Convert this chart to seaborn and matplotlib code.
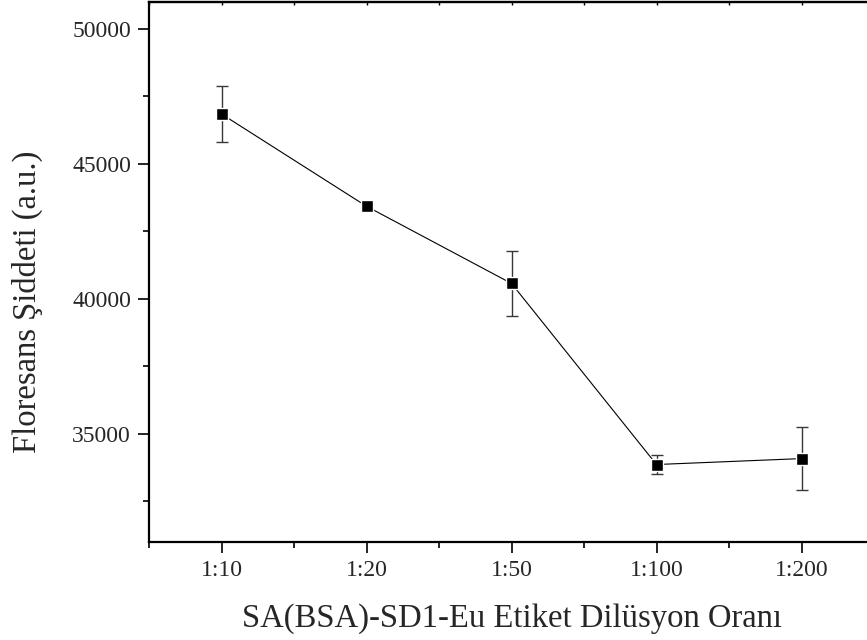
import matplotlib
matplotlib.use("Agg")
import matplotlib.pyplot as plt
import seaborn as sns
import pandas as pd
import numpy as np
from matplotlib.ticker import MultipleLocator

categories = ["1:10", "1:20", "1:50", "1:100", "1:200"]
intensity = [46850, 43430, 40570, 33860, 34080]
error = [1040, 0, 1215, 350, 1160]

sns.set_style("ticks")
plt.rcParams['font.family'] = ['Liberation Serif', 'DejaVu Serif']

df = pd.DataFrame({"ratio": categories, "intensity": intensity, "err": error})
df["pos"] = np.arange(len(categories))

fig = plt.figure(figsize=(8.67, 6.4), dpi=100)
ax = fig.add_axes([149/867, (640-541.7)/640, (874-149)/867, (541.7-2)/640])

ax.errorbar(df["pos"], df["intensity"], yerr=df["err"], fmt='none',
            ecolor='#383838', elinewidth=1.0, capsize=4, capthick=1.0, zorder=2)
sns.lineplot(data=df, x="pos", y="intensity", ax=ax, color='black', lw=0.8,
             marker='s', markersize=8.6, markeredgecolor='white', markeredgewidth=1.0,
             markerfacecolor='black', zorder=3)

ax.set_xlim(-0.5, 4.5)
ax.set_ylim(31000, 51000)
ax.set_xticks(df["pos"])
ax.set_xticklabels(categories)
ax.xaxis.set_minor_locator(MultipleLocator(0.5))
ax.yaxis.set_major_locator(MultipleLocator(5000))
ax.yaxis.set_minor_locator(MultipleLocator(2500))

ax.tick_params(axis='both', which='major', direction='out', length=8, width=1.2,
               labelsize=17, color='black', pad=5)
ax.tick_params(axis='both', which='minor', direction='out', length=4.5, width=1.2, color='black')

top = ax.secondary_xaxis('top')
top.set_xticks(df["pos"])
top.set_xticklabels([])
top.xaxis.set_minor_locator(MultipleLocator(0.5))
top.tick_params(which='both', direction='in', length=2.5, width=1.0, color='black')
top.spines['top'].set_linewidth(1.6)

for s in ax.spines.values():
    s.set_linewidth(1.6)
    s.set_color('black')

ax.set_xlabel("SA(BSA)-SD1-Eu Etiket Dilüsyon Oranı", fontsize=23.5)
ax.set_ylabel("Floresans Şiddeti (a.u.)", fontsize=23.5)
ax.xaxis.set_label_coords(0.5, -0.114)
ax.yaxis.set_label_coords(-0.146, 0.444)

fig.savefig("out.png", dpi=100)
